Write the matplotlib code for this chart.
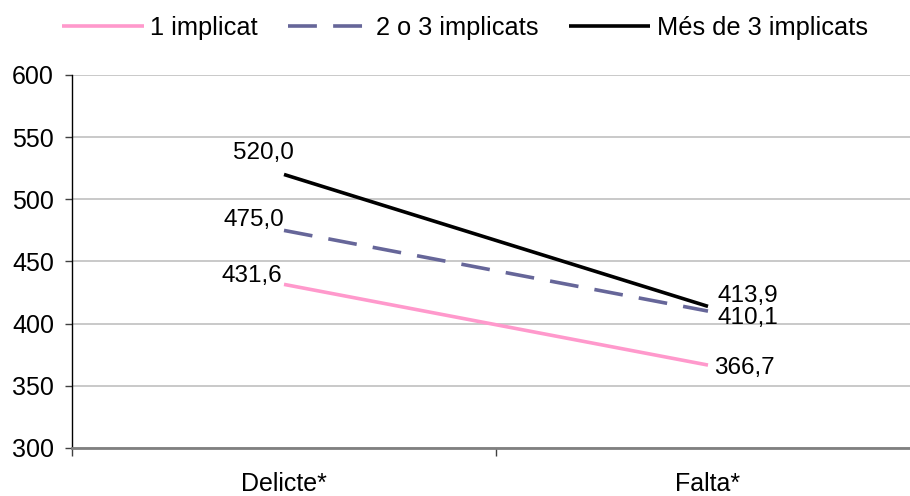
import matplotlib.pyplot as plt

plt.rcParams['font.family'] = ['Liberation Sans', 'DejaVu Sans']

categories = ['Delicte*', 'Falta*']
series_names = ['1 implicat', '2 o 3 implicats', 'Més de 3 implicats']
one = [431.6, 366.7]
two_three = [475.0, 410.1]
more_three = [520.0, 413.9]
yticks = [300, 350, 400, 450, 500, 550, 600]

fig = plt.figure(figsize=(9.1, 4.96), dpi=100)
ax = fig.add_axes([72 / 910, 48 / 496, 848 / 910, 373 / 496])

x = range(len(categories))
l1, = ax.plot(x, one, color='#FF99CC', lw=2.6, solid_capstyle='butt')
l2, = ax.plot(x, two_three, color='#666699', lw=2.6, dashes=(8, 4.5), dash_capstyle='butt')
l3, = ax.plot(x, more_three, color='#000000', lw=2.6, solid_capstyle='butt')

# data labels (offsets in pixels)
fs = 17.5
left_off = [(-2, 8), (0, 10), (10, 21)]
right_off = [(6, -3), (9, -7), (9, 10)]
for vals, lo, ro in zip([one, two_three, more_three], left_off, right_off):
    ax.annotate(f'{vals[0]:.1f}'.replace('.', ','), (0, vals[0]), xytext=lo,
                textcoords='offset pixels', ha='right', va='center', fontsize=fs)
    ax.annotate(f'{vals[1]:.1f}'.replace('.', ','), (1, vals[1]), xytext=ro,
                textcoords='offset pixels', ha='left', va='center', fontsize=fs)

ax.set_xlim(-0.5, 1.5)
ax.set_ylim(300, 600)
ax.set_yticks(yticks)
ax.set_yticklabels([str(v) for v in yticks])
ax.yaxis.grid(True, color='#C0C0C0', lw=1.2)
ax.set_axisbelow(True)

ax.set_xticks(list(x))
ax.set_xticklabels(categories)
ax.set_xticks([-0.5, 0.5, 1.5], minor=True)
ax.tick_params(axis='x', which='major', length=0, pad=17, labelsize=18)
ax.tick_params(axis='x', which='minor', length=6, width=1, color='#404040')
ax.tick_params(axis='y', length=5, width=1, color='#404040', pad=8, labelsize=18)

for s in ['top', 'right']:
    ax.spines[s].set_visible(False)
ax.spines['left'].set_color('black')
ax.spines['left'].set_linewidth(1)
ax.spines['bottom'].set_color('#808080')
ax.spines['bottom'].set_linewidth(2)

fig.legend([l1, l2, l3], series_names, loc='center', bbox_to_anchor=(465 / 910, 1 - 28 / 496),
           ncol=3, frameon=False, fontsize=18.3, handlelength=3.2, handletextpad=0.25,
           columnspacing=1.2)

fig.savefig('out.png', dpi=100)
